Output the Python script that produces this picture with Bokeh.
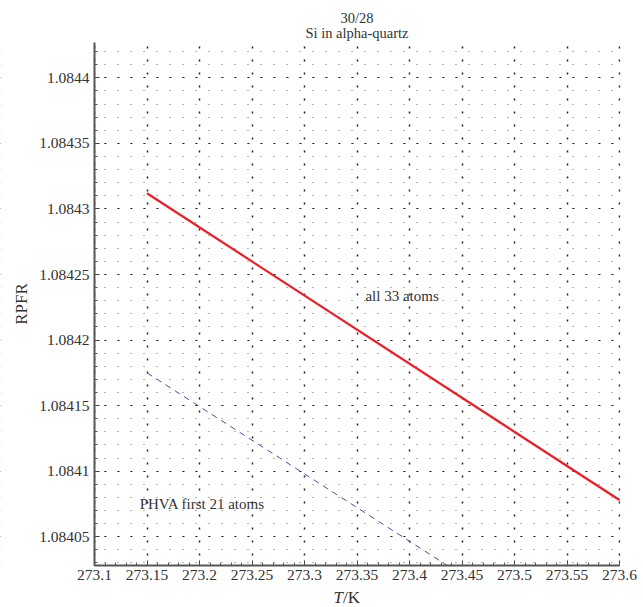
from bokeh.plotting import figure
from bokeh.models import FixedTicker, Label, Range1d, BoxAnnotation
from bokeh.embed import file_html
from bokeh.resources import INLINE
import numpy as np

# ---- data ----
temp_all = [273.15, 273.6]
rpfr_all = [1.084312, 1.084078]
# PHVA line: visible part, from its start to where it meets the bottom axis
temp_phva = [273.15, 273.436]
rpfr_phva = [1.084175, 1.084028]

x_ticks = [273.1, 273.15, 273.2, 273.25, 273.3, 273.35, 273.4, 273.45, 273.5, 273.55, 273.6]
x_labels = ["273.1", "273.15", "273.2", "273.25", "273.3", "273.35", "273.4", "273.45", "273.5", "273.55", "273.6"]
y_ticks = [1.08405, 1.0841, 1.08415, 1.0842, 1.08425, 1.0843, 1.08435, 1.0844]
y_labels = ["1.08405", "1.0841", "1.08415", "1.0842", "1.08425", "1.0843", "1.08435", "1.0844"]

x_min, x_max = 273.1, 273.6
y_min, y_max = 1.084028, 1.084427

title_line1 = "30/28"
title_line2 = "Si in alpha-quartz"

FONT = "Liberation Serif"
TXT = "#333333"

W, H = 643, 607
PAD_L, PAD_R, PAD_T, PAD_B = 94, 24, 42, 42
kx = (W - PAD_L - PAD_R) / (x_max - x_min)
ky = (H - PAD_T - PAD_B) / (y_max - y_min)

# the frame fills the whole canvas; axes are pinned at the data edges
p = figure(width=W, height=H, output_backend="svg", toolbar_location=None,
           x_range=Range1d(x_min - PAD_L / kx, x_max + PAD_R / kx),
           y_range=Range1d(y_min - PAD_B / ky, y_max + PAD_T / ky),
           min_border=0)
p.outline_line_color = None
p.background_fill_color = "white"

x_minor = list(np.round(np.arange(273.1, 273.6001, 0.01), 3))
y_minor = list(np.round(np.arange(1.08403, 1.08443, 0.00001), 6))
p.xaxis.ticker = FixedTicker(ticks=x_ticks, minor_ticks=x_minor)
p.yaxis.ticker = FixedTicker(ticks=y_ticks, minor_ticks=y_minor)
p.xaxis.major_label_overrides = dict(zip(x_ticks, x_labels))
p.yaxis.major_label_overrides = dict(zip(y_ticks, y_labels))
p.xaxis.fixed_location = y_min
p.yaxis.fixed_location = x_min
p.xaxis.bounds = (x_min, x_max)
p.yaxis.bounds = (y_min, y_max)

for ax in (p.xaxis[0], p.yaxis[0]):
    ax.axis_line_color = "#555555"
    ax.axis_line_width = 2
    ax.major_tick_in = 5
    ax.major_tick_out = 0
    ax.minor_tick_in = 3
    ax.minor_tick_out = 0
    ax.major_tick_line_color = "#333333"
    ax.minor_tick_line_color = "#555555"
    ax.major_label_text_font = FONT
    ax.major_label_text_color = TXT
    ax.major_label_text_font_size = "15.5px"
    ax.axis_label_text_font = FONT
    ax.axis_label_text_font_size = "17px"
    ax.axis_label_text_font_style = "normal"
    ax.axis_label_text_color = TXT

p.xaxis.major_label_standoff = 4
p.yaxis.major_label_standoff = 5
p.yaxis.axis_label = "RPFR"
p.yaxis.axis_label_standoff = 5

# dotted grid
p.xgrid.ticker = FixedTicker(ticks=x_ticks, minor_ticks=x_minor)
p.ygrid.ticker = FixedTicker(ticks=y_ticks, minor_ticks=y_minor)
p.xgrid.grid_line_color = "#222222"
p.xgrid.grid_line_dash = "2 11"
p.xgrid.grid_line_width = 1.5
p.xgrid.minor_grid_line_color = None
p.ygrid.grid_line_color = "#222222"
p.ygrid.grid_line_dash = "2 11"
p.ygrid.grid_line_width = 1
p.ygrid.minor_grid_line_color = "#666666"
p.ygrid.minor_grid_line_dash = "1 12"
p.ygrid.minor_grid_line_width = 1

# blank margins around the data area (hide grid outside it)
eps = 1.0 / kx
for kw in (dict(top=y_min), dict(bottom=y_max), dict(right=x_min), dict(left=x_max + eps)):
    p.add_layout(BoxAnnotation(fill_color="white", fill_alpha=1.0, line_color=None,
                               level="underlay", **kw))

# lines
p.line(temp_all, rpfr_all, line_color="#ee1c25", line_width=2.2)
p.line(temp_phva, rpfr_phva, line_color="#4b4ba8", line_width=1, line_dash="6 5")

p.add_layout(Label(x=273.358, y=1.0842337, text="all 33 atoms", text_font=FONT,
                   text_font_size="15px", text_color=TXT, text_baseline="middle"))
p.add_layout(Label(x=273.143, y=1.084075, text="PHVA first 21 atoms", text_font=FONT,
                   text_font_size="15px", text_color=TXT, text_baseline="middle"))

# title (two lines), centred over the data area
xc = (x_min + x_max) / 2
p.add_layout(Label(x=xc, y=H - 17, y_units="screen", text=title_line1, text_font=FONT,
                   text_font_size="14.5px", text_color=TXT, text_align="center",
                   text_baseline="middle"))
p.add_layout(Label(x=xc, y=H - 32, y_units="screen", text=title_line2, text_font=FONT,
                   text_font_size="14.5px", text_color=TXT, text_align="center",
                   text_baseline="middle"))

# x axis title, italic T
p.add_layout(Label(x=273.3276, y=10, y_units="screen", text="T", text_font=FONT,
                   text_font_size="17px", text_font_style="italic", text_color=TXT,
                   text_baseline="middle"))
p.add_layout(Label(x=273.3367, y=10, y_units="screen", text="/K", text_font=FONT,
                   text_font_size="17px", text_color=TXT, text_baseline="middle"))

open("out.html", "w").write(file_html(p, INLINE))
